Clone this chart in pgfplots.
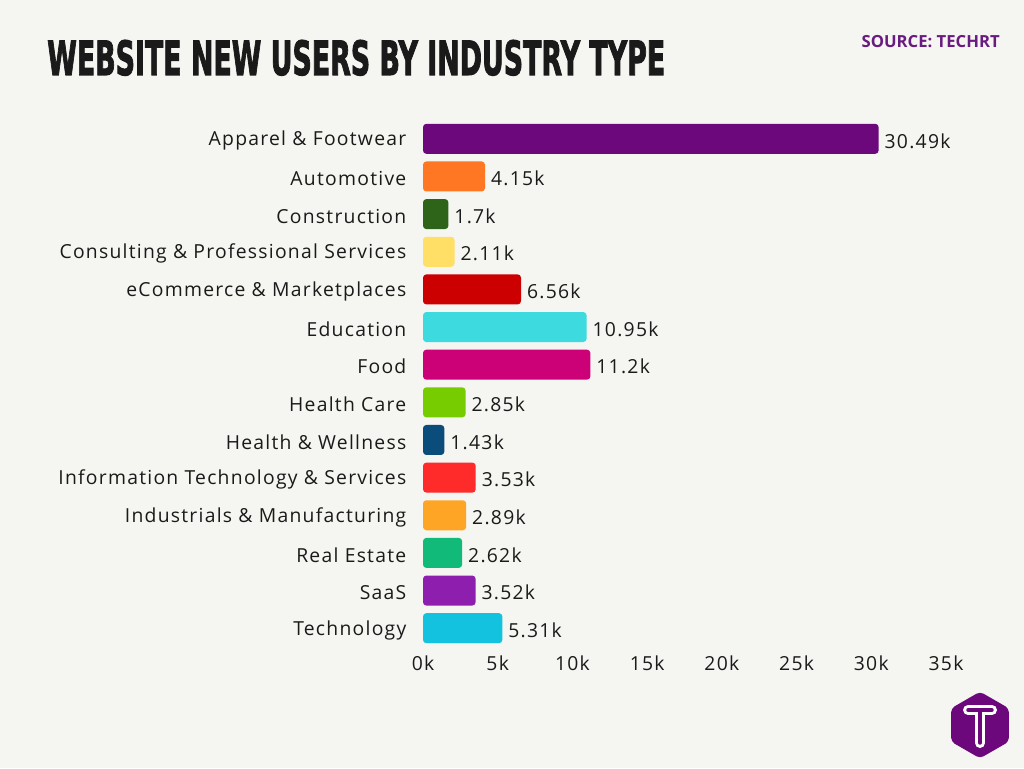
\documentclass[border=0pt]{standalone}
\usepackage{pgfplots}
\pgfplotsset{compat=1.18}
\usepackage{fontspec}
\setmainfont{Open Sans}[LetterSpace=6.5]
\newfontfamily\srcfont{Open Sans Bold}
\newfontfamily\titlefont[FakeBold=2.5]{DejaVu Sans Bold}
\definecolor{bg}{HTML}{F5F5F1}
\definecolor{txt}{HTML}{1A1A1A}
\definecolor{src}{HTML}{6A1B80}
\definecolor{c1}{HTML}{6C087B}
\definecolor{c2}{HTML}{FF7722}
\definecolor{c3}{HTML}{2D641A}
\definecolor{c4}{HTML}{FFDF66}
\definecolor{c5}{HTML}{CC0000}
\definecolor{c6}{HTML}{3DDAE0}
\definecolor{c7}{HTML}{CC0077}
\definecolor{c8}{HTML}{77CC00}
\definecolor{c9}{HTML}{0A4D7A}
\definecolor{c10}{HTML}{FF2A2A}
\definecolor{c11}{HTML}{FFA526}
\definecolor{c12}{HTML}{12BA7A}
\definecolor{c13}{HTML}{8E1FAE}
\definecolor{c14}{HTML}{12C2DE}
\begin{document}
\begin{tikzpicture}
\fill[bg] (0,0) rectangle (768pt,576pt);
\node[anchor=base west, inner sep=0pt, text=txt] at (35.25pt,519.75pt)
  {\resizebox{463.5pt}{26.25pt}{\titlefont WEBSITE NEW USERS BY INDUSTRY TYPE}};
\node[anchor=base east, inner sep=0pt, text=src] at (750pt,540pt)
  {\fontsize{12.5pt}{14pt}\selectfont\srcfont SOURCE: TECHRT};
% logo
\fill[c1, rounded corners=3pt] (735pt,32.25pt) +(30:25pt) -- +(90:25pt) -- +(150:25pt) -- +(210:25pt) -- +(270:25pt) -- +(330:25pt) -- cycle;
\draw[white, line width=7.5pt, line cap=round] (735pt,43.5pt) -- (735pt,18.75pt);
\draw[white, line width=7.5pt, line cap=round] (726pt,43.5pt) -- (744pt,43.5pt);
\draw[c1, line width=2.6pt, line cap=round] (735pt,43.5pt) -- (735pt,18.75pt);
\draw[c1, line width=2.6pt, line cap=round] (726pt,43.5pt) -- (744pt,43.5pt);
\begin{axis}[
  at={(317.25pt,90.75pt)}, anchor=south west,
  scale only axis, width=392.25pt, height=395.25pt,
  xmin=0, xmax=35, ymin=-0.5, ymax=13.5, y dir=reverse,
  axis line style={draw=none}, major tick length=0pt, tick style={draw=none},
  /pgf/number format/assume math mode=true,
  xtick={0,5,...,35},
  xticklabel={\pgfmathprintnumber{\tick}k},
  ytick={0,...,13},
  yticklabels={Apparel \& Footwear, Automotive, Construction, Consulting \& Professional Services, eCommerce \& Marketplaces, Education, Food, Health Care, Health \& Wellness, Information Technology \& Services, Industrials \& Manufacturing, Real Estate, SaaS, Technology},
  ticklabel style={font=\fontsize{14.5pt}{16pt}\selectfont, text=txt},
  yticklabel style={anchor=east, xshift=-9pt, yshift=-1.5pt},
  xticklabel style={anchor=north, yshift=-3pt},
  xbar, bar width=22.5pt, bar shift=0pt,
  point meta=x,
  nodes near coords={\pgfmathprintnumber{\pgfplotspointmeta}k},
  nodes near coords style={anchor=west, font=\fontsize{14.5pt}{16pt}\selectfont, text=txt, xshift=1pt, yshift=-1.5pt},
  clip=false,
]
\addplot[fill=c1, draw=none, rounded corners=2.5pt] coordinates {(30.49,0)};
\addplot[fill=c2, draw=none, rounded corners=2.5pt] coordinates {(4.15,1)};
\addplot[fill=c3, draw=none, rounded corners=2.5pt] coordinates {(1.7,2)};
\addplot[fill=c4, draw=none, rounded corners=2.5pt] coordinates {(2.11,3)};
\addplot[fill=c5, draw=none, rounded corners=2.5pt] coordinates {(6.56,4)};
\addplot[fill=c6, draw=none, rounded corners=2.5pt] coordinates {(10.95,5)};
\addplot[fill=c7, draw=none, rounded corners=2.5pt] coordinates {(11.2,6)};
\addplot[fill=c8, draw=none, rounded corners=2.5pt] coordinates {(2.85,7)};
\addplot[fill=c9, draw=none, rounded corners=2.5pt] coordinates {(1.43,8)};
\addplot[fill=c10, draw=none, rounded corners=2.5pt] coordinates {(3.53,9)};
\addplot[fill=c11, draw=none, rounded corners=2.5pt] coordinates {(2.89,10)};
\addplot[fill=c12, draw=none, rounded corners=2.5pt] coordinates {(2.62,11)};
\addplot[fill=c13, draw=none, rounded corners=2.5pt] coordinates {(3.52,12)};
\addplot[fill=c14, draw=none, rounded corners=2.5pt] coordinates {(5.31,13)};
\end{axis}
\end{tikzpicture}
\end{document}
